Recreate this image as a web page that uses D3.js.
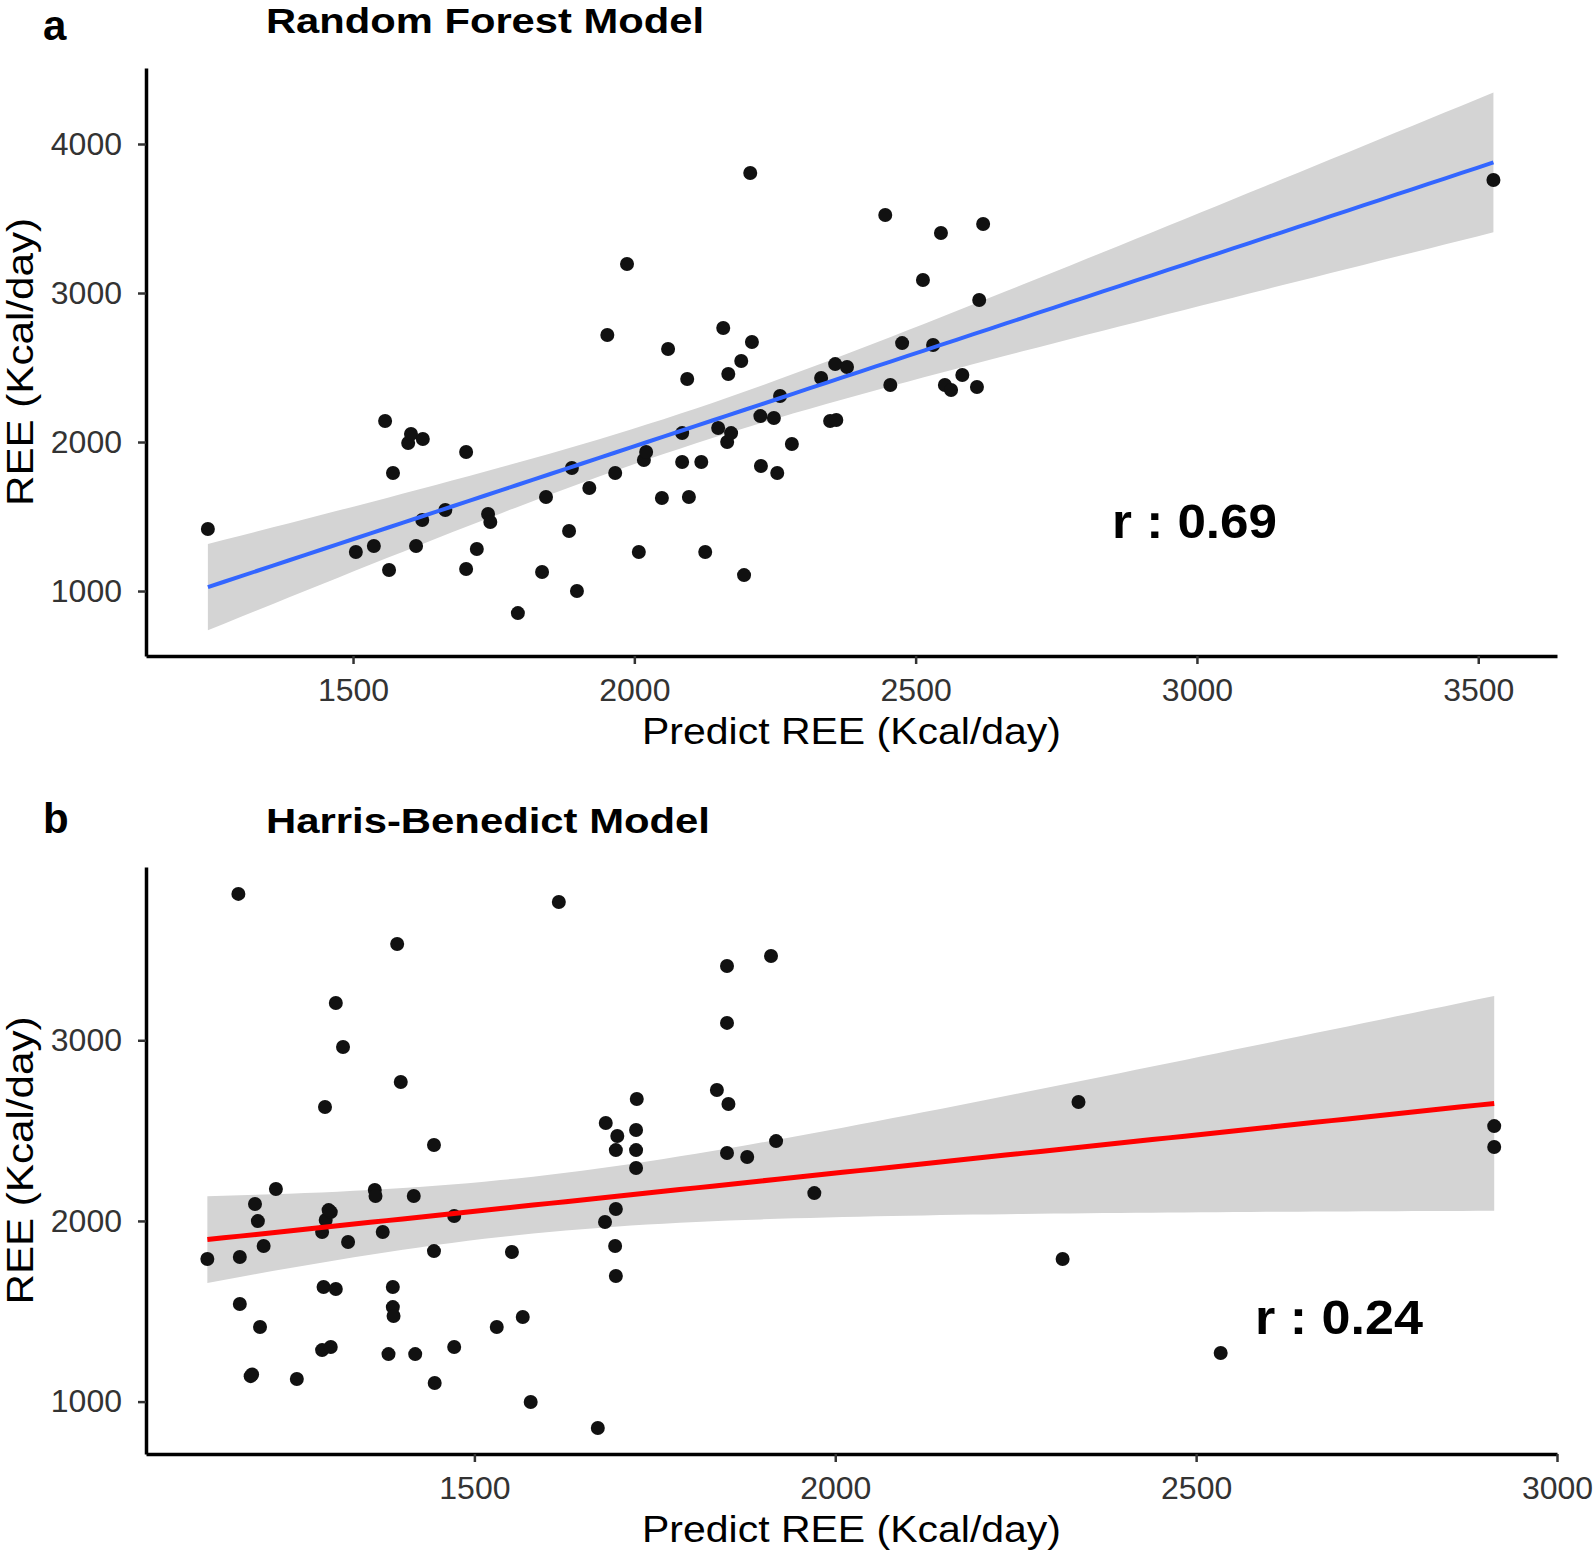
<!DOCTYPE html>
<html><head><meta charset="utf-8">
<script src="https://cdn.jsdelivr.net/npm/d3@7"></script>
<style>body{margin:0;background:#fff}svg{display:block}text{font-family:"Liberation Sans",Arial,Helvetica,sans-serif}</style>
</head><body>
<svg id="c" width="1593" height="1556"></svg>
<script>
// ---- Data: panel a (Random Forest) ----
const rfPred = [1242,1505,1537,1557,1564,1571,1598,1603,1612,1623,1624,1664,1701,1701,1720,1740,1744,1793,1836,1843,1884,1889,1898,1920,1952,1966,1987,2008,2017,2021,2049,2060,2085,2085,2094,2097,2119,2126,2149,2158,2165,2167,2172,2190,2195,2206,2209,2224,2225,2248,2254,2259,2280,2332,2348,2359,2357,2378,2446,2455,2476,2513,2531,2545,2552,2563,2583,2609,2613,2620,3527];
const rfREE  = [1416,1262,1302,2141,1141,1792,1993,2054,1302,1477,2020,1544,1933,1148,1282,1517,1463,852,1128,1631,1403,1826,1000,1691,2718,1792,3195,1262,1879,1933,1624,2624,1866,2060,2423,1631,1866,1262,2094,2765,2000,2456,2060,2544,1107,3805,2671,2174,1839,2161,1792,2309,1987,2430,2141,2148,2523,2503,3523,2383,2664,3087,2651,3403,2383,2349,2450,2369,2953,3463,3758];
// ---- Data: panel b (Harris-Benedict) ----
const hbPred = [1173,1617,1393,1911,1850,1308,1318,1850,1398,1293,1836,1852,1725,1682,1698,1724,1696,1724,1724,1444,1850,1878,1918,2337,2913,2913,1130,1175,1196,1200,1208,1225,1175,1203,1190,1254,1289,1294,1301,1325,1362,1363,1373,1416,1472,1444,1552,1291,1308,1387,1387,1388,1289,1301,1381,1418,1472,1445,1531,1567,1578,1671,1681,1696,1695,1696,1971,2315,2534,1192,1298];
const hbREE  = [3810,3765,3533,3466,3411,3206,2963,3096,2769,2631,2725,2647,2675,2542,2470,2503,2392,2392,2293,2420,2376,2354,2442,2658,2525,2409,1789,1800,2094,1999,1861,2177,1540,1413,1141,1125,1939,2005,2049,1883,2171,2138,1939,2138,2027,1833,1828,1634,1623,1634,1523,1474,1285,1302,1263,1263,1302,1103,1413,1468,998,854,1994,2066,1861,1695,2154,1789,1269,1150,2060];

// ticks and scale domains
const rfXTicks = [1500,2000,2500,3000,3500];
const rfYTicks = [1000,2000,3000,4000];
const hbXTicks = [1500,2000,2500,3000];
const hbYTicks = [1000,2000,3000];
const rfXDomain = [1132, 3640];
const rfYDomain = [564, 4510];
const hbXDomain = [1045, 3000];
const hbYDomain = [710, 3959];

const panelLabels = ["a","b"];
const titles = ["Random Forest Model","Harris-Benedict Model"];
const rLabels = ["r : 0.69","r : 0.24"];
const xTitle = "Predict REE (Kcal/day)";
const yTitle = "REE (Kcal/day)";

const svg = d3.select("#c");

function lmFit(xs, ys){
  const n = xs.length;
  const mx = d3.mean(xs), my = d3.mean(ys);
  let sxx=0, sxy=0;
  for(let i=0;i<n;i++){ sxx += (xs[i]-mx)**2; sxy += (xs[i]-mx)*(ys[i]-my); }
  const b = sxy/sxx, a = my - b*mx;
  let sse=0;
  for(let i=0;i<n;i++){ sse += (ys[i]-(a+b*xs[i]))**2; }
  const s = Math.sqrt(sse/(n-2));
  const t = 1.995;
  const [x0,x1] = d3.extent(xs);
  return d3.range(80).map(k=>{
    const x = x0 + (x1-x0)*k/79;
    const yh = a + b*x;
    const se = s*Math.sqrt(1/n + (x-mx)**2/sxx);
    return {x, y:yh, lo:yh - t*se, hi:yh + t*se};
  });
}

function panel(o){
  const g = svg.append("g");
  const x = d3.scaleLinear().domain(o.xDomain).range([146,1557]);
  const y = d3.scaleLinear().domain(o.yDomain).range([o.bottom,o.top]);
  const fit = lmFit(o.xs, o.ys);

  g.append("path").datum(fit)
    .attr("d", d3.area().x(d=>x(d.x)).y0(d=>y(d.lo)).y1(d=>y(d.hi)))
    .attr("fill","#d4d4d4");

  g.append("g").selectAll("circle").data(o.xs.map((v,i)=>[v,o.ys[i]])).join("circle")
    .attr("cx",d=>x(d[0])).attr("cy",d=>y(d[1])).attr("r",7)
    .attr("fill","#111");

  g.append("path").datum(fit)
    .attr("d", d3.line().x(d=>x(d.x)).y(d=>y(d.y)))
    .attr("fill","none").attr("stroke",o.lineColor).attr("stroke-width",o.lineWidth);

  const ax = g.append("g").attr("transform",`translate(0,${o.bottom})`)
    .call(d3.axisBottom(x).tickValues(o.xTicks).tickSize(8).tickSizeOuter(0).tickPadding(14).tickFormat(d3.format("d")));
  const ay = g.append("g").attr("transform",`translate(146,0)`)
    .call(d3.axisLeft(y).tickValues(o.yTicks).tickSize(8).tickSizeOuter(0).tickPadding(16).tickFormat(d3.format("d")));
  [ax,ay].forEach(a=>{
    a.select(".domain").attr("stroke","#000").attr("stroke-width",3.5);
    a.selectAll(".tick line").attr("stroke","#333").attr("stroke-width",2.5);
    a.selectAll(".tick text").attr("fill","#333").style("font-size","32px")
      .style("font-family",'"Liberation Sans",Arial,sans-serif');
  });

  g.append("text").attr("x",851.5).attr("y",o.bottom+88).attr("text-anchor","middle")
    .attr("textLength",419).attr("lengthAdjust","spacingAndGlyphs")
    .style("font-size","37px").attr("fill","#000").text(xTitle);
  g.append("text").attr("transform",`translate(33,${(o.top+o.bottom)/2}) rotate(-90)`)
    .attr("text-anchor","middle").attr("textLength",288).attr("lengthAdjust","spacingAndGlyphs")
    .style("font-size","37px").attr("fill","#000").text(yTitle);

  g.append("text").attr("x",43).attr("y",o.letterY).style("font-size","42px").style("font-weight","bold")
    .attr("fill","#000").text(o.letter);
  g.append("text").attr("x",266).attr("y",o.titleY).style("font-size","35px").style("font-weight","bold")
    .attr("textLength",o.titleLen).attr("lengthAdjust","spacingAndGlyphs")
    .attr("fill","#000").text(o.title);

  g.append("text").attr("x",o.rX).attr("y",o.rY).style("font-size","48px").style("font-weight","bold")
    .attr("textLength",o.rLen).attr("lengthAdjust","spacingAndGlyphs")
    .attr("fill","#000").text(o.r);
}

panel({xs:rfPred, ys:rfREE, xDomain:rfXDomain, yDomain:rfYDomain, top:68, bottom:656,
  xTicks:rfXTicks, yTicks:rfYTicks, lineColor:"#3366FF", lineWidth:4,
  letter:panelLabels[0], letterY:40, title:titles[0], titleY:33, titleLen:438,
  r:rLabels[0], rX:1112, rY:538, rLen:165});
panel({xs:hbPred, ys:hbREE, xDomain:hbXDomain, yDomain:hbYDomain, top:867, bottom:1454,
  xTicks:hbXTicks, yTicks:hbYTicks, lineColor:"#FF0000", lineWidth:5,
  letter:panelLabels[1], letterY:833, title:titles[1], titleY:833, titleLen:444,
  r:rLabels[1], rX:1255, rY:1334, rLen:168});
</script>
</body></html>
